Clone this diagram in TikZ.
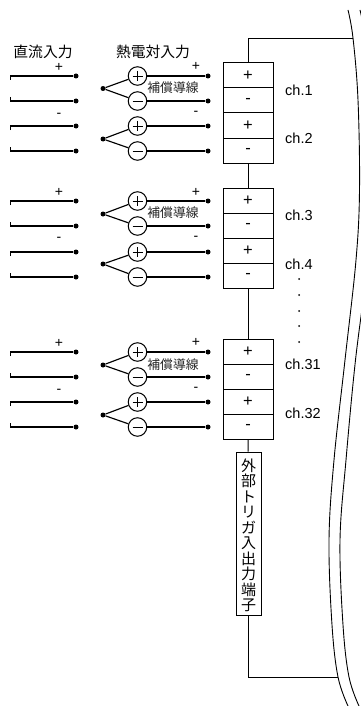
\documentclass[tikz,border=0pt]{standalone}
\usepackage{fontspec}
\setmainfont{Liberation Sans}
\newfontfamily\jpfont{Noto Sans CJK JP}
\tikzset{
  wire/.style={line width=1.15pt,black},
  trunk/.style={line width=0.95pt,black},
  thin wire/.style={line width=0.9pt,black},
  termdot/.style={circle,fill=black,inner sep=0pt,minimum size=5pt},
  tc/.style={circle,draw,line width=1pt,fill=white,inner sep=0pt,minimum size=18.5pt},
  termbox/.style={draw,line width=1pt,inner sep=0pt,minimum width=50pt,minimum height=25pt,font=\fontsize{16.5}{16.5}\selectfont},
  sign/.style={inner sep=0pt,font=\fontsize{14}{14}\selectfont},
  chlabel/.style={inner sep=0pt,anchor=west,font=\fontsize{14.5}{14.5}\selectfont},
  head/.style={inner sep=0pt,font=\jpfont\fontsize{14.8}{15}\selectfont},
  comp/.style={inner sep=0pt,font=\jpfont\fontsize{12.8}{13}\selectfont,text=black!85},
  vdot/.style={circle,fill=black,inner sep=0pt,minimum size=2pt},
}
\begin{document}
\begin{tikzpicture}[x=1pt,y=-1pt]
\useasboundingbox (0,0) rectangle (361,706);
\clip (0,0) rectangle (361,706);
\fill[white] (0,0) rectangle (361,706);
% headers
\node[head] (hdc) at (43,52) {直流入力};
\node[head] (htc) at (153,52) {熱電対入力};
% DC wires
\foreach \n/\y/\t in {a/76/80,b/101/97,c/126/130,d/151/147,e/201/205,f/226/222,g/252/256,h/277/273,i/352/356,j/377/373,k/402/406,l/427/423}{
  \node[termdot] (dc\n) at (76,\y) {};
  \coordinate (dcc\n) at (10.5,\y);
  \coordinate (dct\n) at (10.5,\t);
  \draw[wire] (dct\n) -- (dcc\n) -- (dc\n);
  \node[termdot] (tr\n) at (208,\y) {};
}
% thermocouple pairs
\foreach \n/\m/\y/\ya/\yb in {a/b/88.5/76/101,c/d/139/126/151,e/f/214/201/226,g/h/264/252/277,i/j/365/352/377,k/l/415/402/427}{
  \node[termdot] (j\n) at (103,\y) {};
  \node[tc] (p\n) at (137.5,\ya) {};
  \node[tc] (m\n) at (137.5,\yb) {};
  \draw[trunk] (p\n.center) ++(-5,0) -- ++(10,0);
  \draw[trunk] (p\n.center) ++(0,-5) -- ++(0,10);
  \draw[trunk] (m\n.center) ++(-5,0) -- ++(10,0);
  \draw[wire] (j\n) -- (p\n);
  \draw[wire] (j\n) -- (m\n);
  \draw[wire] (p\n) -- (tr\n);
  \draw[wire] (m\n) -- (tr\m);
}
% compensation lead labels
\node[comp] (ca) at (173,88) {補償導線};
\node[comp] (cb) at (173,213) {補償導線};
\node[comp] (cc) at (173,365) {補償導線};
% signs
\foreach \n/\x/\y/\s in {s1/59/67/+,s2/59/115/-,s3/196/66/+,s4/196/113/-,s5/59/192/+,s6/59/239/-,s7/196/192/+,s8/196/238/-,s9/59/343/+,s10/59/391/-,s11/196/342/+,s12/196/389/-}{
  \node[sign] (\n) at (\x,\y) {\s};
}
% terminal blocks
\foreach \n/\y/\s in {t1/75.5/+,t2/100.5/-,t3/125.5/+,t4/150.5/-,t5/200.5/+,t6/225.5/-,t7/250.5/+,t8/275.5/-,t9/352/+,t10/377/-,t11/402/+,t12/427/-}{
  \node[termbox] (\n) at (248,\y) {\s};
}
% trigger terminal
\node[draw,line width=1pt,inner sep=0pt,minimum width=25pt,minimum height=163pt,align=center,
  font=\jpfont\fontsize{15}{15.5}\selectfont] (trig) at (248.5,533.5)
  {\rule{0pt}{16pt}外\\部\\ト\\リ\\ガ\\入\\出\\力\\端\\子};
% channel labels
\node[chlabel] (ch1) at (285,90) {ch.1};
\node[chlabel] (ch2) at (285,138) {ch.2};
\node[chlabel] (ch3) at (285,215) {ch.3};
\node[chlabel] (ch4) at (285,264) {ch.4};
\node[chlabel] (ch31) at (285,364) {ch.31};
\node[chlabel] (ch32) at (285,413) {ch.32};
\foreach \n/\y in {1/279,2/295,3/311,4/326,5/342}{
  \node[vdot] (vd\n) at (299,\y) {};
}
% chassis break lines
\draw[thin wire] plot[smooth,tension=0.6] coordinates {(348,10) (353,38) (358,100) (359.5,190) (356,260) (345,360) (334,460) (329,540) (332,625) (338,677) (348,706)};
\draw[thin wire] plot[smooth,tension=0.6] coordinates {(360,10) (365,38) (370,100) (371.5,190) (368,260) (355.5,360) (346,460) (340,540) (343,625) (349,677) (359,706)};
% connections
\coordinate (wallT) at (353,38);
\coordinate (wallB) at (338,677);
\draw[trunk] (t1.north) -- (t1.north |- wallT) -- (wallT);
\draw[trunk] (t4) -- (t5);
\draw[trunk] (t8) -- (t9);
\draw[trunk] (t12) -- (trig);
\draw[trunk] (trig.south) -- (trig.south |- wallB) -- (wallB);
\end{tikzpicture}
\end{document}
